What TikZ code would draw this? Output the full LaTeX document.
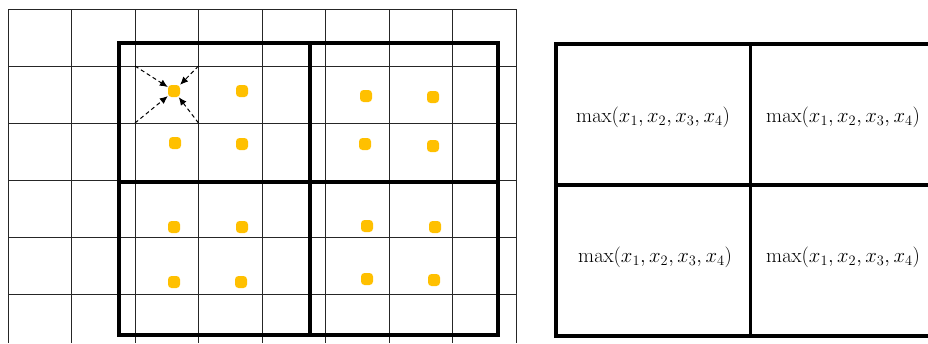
\documentclass[tikz,border=0pt]{standalone}
\usetikzlibrary{arrows.meta}
\begin{document}
\begin{tikzpicture}[x=1pt,y=-1pt,
  gridline/.style={line width=1pt,black!85},
  thick frame/.style={line width=3.8pt,black,line join=miter},
  dot/.style={fill=dotorange,draw=none,minimum size=12pt,inner sep=0pt,rounded corners=3.5pt,rectangle},
  pullarrow/.style={line width=1pt,dash pattern=on 4pt off 3pt,-{Latex[length=8pt,width=7pt]}},
  celltext/.style={font=\fontsize{21.5}{24}\selectfont,inner sep=0pt}]
\definecolor{dotorange}{HTML}{FFC000}
\useasboundingbox (0,0) rectangle (928,343);

% fine input grid, running off the lower edge
\foreach \x in {8,71.5,135,198.5,262,325.5,389,452.5,516}
  \draw[gridline] (\x,9) -- (\x,343);
\foreach \y in {9,66,123,180,237,294}
  \draw[gridline] (8,\y) -- (516,\y);

% 2x2 pooling windows
\draw[thick frame] (119,43) rectangle (498,335);
\draw[thick frame] (310,43) -- (310,335);
\draw[thick frame] (119,182) -- (498,182);

% sampled points
\node[dot] (a1) at (174,91) {};
\node[dot] (a2) at (242,91) {};
\node[dot] (a3) at (175,143) {};
\node[dot] (a4) at (242,144) {};
\node[dot] (b1) at (366,96) {};
\node[dot] (b2) at (433,97) {};
\node[dot] (b3) at (365,144) {};
\node[dot] (b4) at (433,146) {};
\node[dot] (c1) at (174,227) {};
\node[dot] (c2) at (242,227) {};
\node[dot] (c3) at (174,282) {};
\node[dot] (c4) at (241,282) {};
\node[dot] (e1) at (367,226) {};
\node[dot] (e2) at (435,227) {};
\node[dot] (e3) at (367,279) {};
\node[dot] (e4) at (434,280) {};

% bilinear neighbours of the first point
\coordinate (n1) at (135,66);
\coordinate (n2) at (198.5,66);
\coordinate (n3) at (135,123);
\coordinate (n4) at (198.5,123);
\draw[pullarrow] (n1) -- (a1);
\draw[pullarrow] (n2) -- (a1);
\draw[pullarrow] (n3) -- (a1);
\draw[pullarrow] (n4) -- (a1);

% pooled output
\begin{scope}
\clip (540,0) rectangle (928,343);
\draw[thick frame] (556,44) rectangle (960,336);
\draw[thick frame] (750.5,44) -- (750.5,336);
\draw[thick frame] (556,185) -- (960,185);
\end{scope}
\node[celltext] (o1) at (653,117) {$\max(x_1,x_2,x_3,x_4)$};
\node[celltext] (o2) at (843,117) {$\max(x_1,x_2,x_3,x_4)$};
\node[celltext] (o3) at (655,257) {$\max(x_1,x_2,x_3,x_4)$};
\node[celltext] (o4) at (843,257) {$\max(x_1,x_2,x_3,x_4)$};
\end{tikzpicture}
\end{document}
